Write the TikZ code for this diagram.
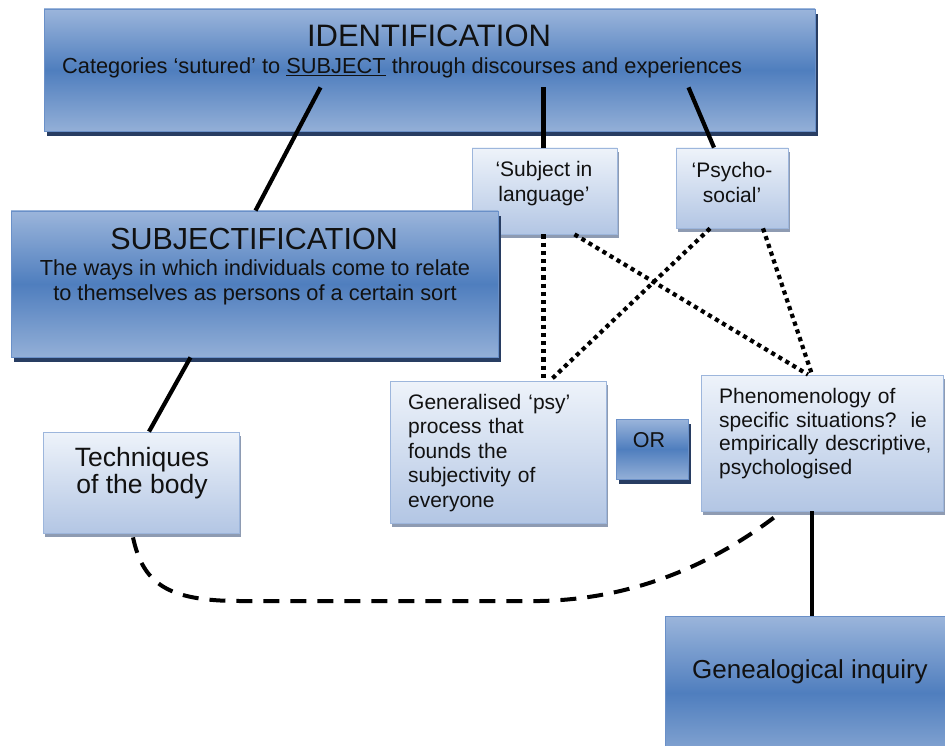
\documentclass[tikz,border=0pt]{standalone}
\usepackage{fontspec}
\setmainfont{Liberation Sans}
\usetikzlibrary{shadows}
\definecolor{dkTop}{HTML}{9BB5DB}
\definecolor{dkMid}{HTML}{4F7EBE}
\definecolor{dkBot}{HTML}{93AFD7}
\definecolor{dkEdge}{HTML}{6A90C8}
\definecolor{dkShadow}{HTML}{283D62}
\definecolor{ltTop}{HTML}{EEF3FA}
\definecolor{ltBot}{HTML}{B3C6E4}
\definecolor{ltEdge}{HTML}{9DB6DC}
\definecolor{ltShadow}{HTML}{8E9BB2}
\definecolor{txt}{HTML}{111111}
\tikzset{
  darkbox/.style={draw=dkEdge, line width=0.8pt, top color=dkTop, bottom color=dkBot, middle color=dkMid,
    drop shadow={shadow xshift=3pt, shadow yshift=-5pt, fill=dkShadow, opacity=1}, inner sep=0pt},
  lightbox/.style={draw=ltEdge, line width=0.8pt, top color=ltTop, bottom color=ltBot,
    drop shadow={shadow xshift=2pt, shadow yshift=-4pt, fill=ltShadow, opacity=1}, inner sep=0pt},
  lbl/.style={inner sep=0pt, text=txt},
  conn/.style={line width=4.2pt, black},
  dotconn/.style={line width=4.2pt, black, dash pattern=on 4.2pt off 4pt},
  dashconn/.style={line width=4pt, black, dash pattern=on 16pt off 11pt},
}
\begin{document}
\begin{tikzpicture}[x=1pt,y=-1pt]
\useasboundingbox (0,0) rectangle (945,746);
\fill[white] (0,0) rectangle (945,746);
\clip (0,0) rectangle (945,746);

% boxes
\node[darkbox, minimum width=771pt, minimum height=122pt] (ident) at (429.5,70) {};
\node[lightbox, minimum width=145pt, minimum height=86pt] (sil) at (544.5,191) {};
\node[lightbox, minimum width=112pt, minimum height=80pt] (psy) at (732,188) {};
\node[darkbox, minimum width=487pt, minimum height=146pt] (subj) at (254.5,284) {};
\node[lightbox, minimum width=196pt, minimum height=101pt] (tech) at (141,482.5) {};
\node[lightbox, minimum width=216pt, minimum height=142pt] (gpsy) at (498,452) {};
\node[darkbox, minimum width=72pt, minimum height=60pt] (orb) at (652,449) {};
\node[lightbox, minimum width=242pt, minimum height=136pt] (phen) at (822,443) {};
\node[darkbox, minimum width=295pt, minimum height=154pt] (gen) at (812.5,693) {};

% texts
\node[lbl, anchor=base, font=\fontsize{31}{34}\selectfont] (identtitle) at (429,47) {IDENTIFICATION};
\node[lbl, anchor=base west, font=\fontsize{21.8}{25}\selectfont] (identsub) at (62,74)
  {Categories ‘sutured’ to \underline{SUBJECT} through discourses and experiences};
\node[lbl, anchor=base, font=\fontsize{30.5}{34}\selectfont] (subjtitle) at (254,249) {SUBJECTIFICATION};
\node[lbl, align=center, font=\fontsize{21.8}{25}\selectfont] (subjtext) at (255,282)
  {The ways in which individuals come to relate\\to themselves as persons of a certain sort};
\node[lbl, align=center, font=\fontsize{21}{25}\selectfont] (siltext) at (544,184) {‘Subject in\\language’};
\node[lbl, align=center, font=\fontsize{21}{25}\selectfont] (psytext) at (732,182) {‘Psycho-\\social’};
\node[lbl, align=center, font=\fontsize{26.5}{27}\selectfont] (techtext) at (142,473) {Techniques\\of the body};
\node[lbl, anchor=west, text width=190pt, align=left, font=\fontsize{21}{24.5}\selectfont] (gpsytext) at (408,452.6)
  {Generalised ‘psy’\\process that\\founds the\\subjectivity of\\everyone};
\node[lbl, anchor=base, font=\fontsize{21.5}{25}\selectfont] (ortext) at (649,447) {OR};
\node[lbl, anchor=west, text width=222pt, align=left, font=\fontsize{21}{23.5}\selectfont] (phentext) at (719,433.8)
  {Phenomenology of\\specific situations?\ \ ie\\empirically descriptive,\\psychologised};
\node[lbl, anchor=base, font=\fontsize{26}{30}\selectfont] (gentext) at (810,678) {Genealogical inquiry};

% solid connectors
\draw[conn] ([xshift=-109pt,yshift=44pt]ident.south) -- ([xshift=1pt]subj.north);
\draw[conn] ([xshift=114pt,yshift=44pt]ident.south) -- ([xshift=-1pt]sil.north);
\draw[conn] ([xshift=259pt,yshift=44pt]ident.south) -- ([xshift=-18pt]psy.north);
\draw[conn] ([xshift=-64pt]subj.south) -- ([xshift=8pt]tech.north);
\draw[conn] ([xshift=-10pt]phen.south) -- ([xshift=-0.5pt]gen.north);

% dotted connectors
\draw[dotconn] ([xshift=-1pt]sil.south) -- ([xshift=45.5pt]gpsy.north);
\draw[dotconn] ([xshift=30pt]sil.south) -- ([xshift=-14pt]phen.north);
\draw[dotconn] ([xshift=-22pt]psy.south) -- ([xshift=52pt]gpsy.north);
\draw[dotconn] ([xshift=31pt]psy.south) -- ([xshift=-10pt]phen.north);

% dashed connector
\draw[dashconn] ([xshift=-8pt,yshift=-4pt]tech.south) .. controls (143,584) and (168,601) .. (240,601)
  -- (540,601) .. controls (640,599) and (720,560) .. ([xshift=-40pt]phen.south);
\end{tikzpicture}
\end{document}
